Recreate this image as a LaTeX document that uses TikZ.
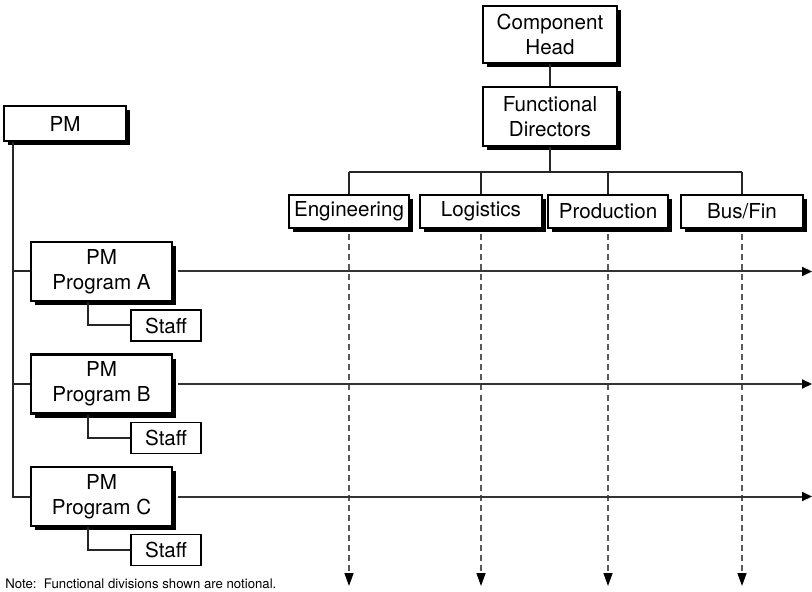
\documentclass[tikz,border=0pt]{standalone}
\usepackage{fontspec}
\setmainfont{TeX Gyre Heros}
\usetikzlibrary{shadows,arrows.meta}
\begin{document}
\begin{tikzpicture}[x=0.5pt,y=-0.5pt,
  orgbox/.style={draw=black, line width=1.1pt, fill=white, inner sep=0pt, align=center,
    font=\fontsize{10.3}{12.5}\selectfont,
    general shadow={fill=black, shadow xshift=2.2pt, shadow yshift=-2.2pt}},
  staffbox/.style={draw=black, line width=0.8pt, fill=white, inner sep=0pt,
    minimum width=35pt, minimum height=15.5pt, font=\fontsize{10.3}{12.5}\selectfont},
  conn/.style={line width=1pt, black!85},
  dasharr/.style={line width=0.7pt, black!65, dash pattern=on 3pt off 2pt,
    -{Triangle[width=4.5pt,length=6.5pt,color=black]}},
  harr/.style={line width=1pt, black!80, -{Triangle[width=4.5pt,length=5pt,color=black]}}]
\useasboundingbox (0,0) rectangle (812,592);

% right-hand hierarchy
\node[orgbox, minimum width=67pt, minimum height=28.5pt] (ch) at (550,34.5) {Component\\Head};
\node[orgbox, minimum width=67pt, minimum height=29.5pt] (fd) at (550,116.5) {Functional\\Directors};
\node[orgbox, minimum width=60pt, minimum height=16.5pt] (eng) at (349,211.5) {Engineering};
\node[orgbox, minimum width=61pt, minimum height=16.5pt] (log) at (481,211.5) {Logistics};
\node[orgbox, minimum width=60pt, minimum height=16.5pt] (prod) at (608,211.5) {Production};
\node[orgbox, minimum width=61pt, minimum height=16.5pt] (bus) at (742,211.5) {Bus/Fin};

% left-hand hierarchy
\node[orgbox, minimum width=61pt, minimum height=17.5pt] (pm) at (65,123.5) {PM};
\node[orgbox, minimum width=70.5pt, minimum height=29.5pt] (pa) at (101.5,271.5) {PM\\Program A};
\node[orgbox, minimum width=70.5pt, minimum height=29.5pt] (pb) at (101.5,384) {PM\\Program B};
\node[orgbox, minimum width=70.5pt, minimum height=29.5pt] (pc) at (101.5,496.5) {PM\\Program C};
\node[staffbox] (sa) at (166,325.5) {Staff};
\node[staffbox] (sb) at (166,438) {Staff};
\node[staffbox] (sc) at (166,550) {Staff};

\node[anchor=base west, inner sep=0pt, font=\fontsize{6.6}{8}\selectfont] (note) at (5,588)
  {Note:\ \ Functional divisions shown are notional.};

% connectors, right side
\coordinate (bar) at (550,172);
\draw[conn] (ch.south) -- (fd.north);
\draw[conn] (fd.south) -- (fd.south |- bar);
\draw[conn] (eng.north |- bar) -- (bus.north |- bar);
\foreach \n in {eng,log,prod,bus} \draw[conn] (\n.north) -- (\n.north |- bar);

% dashed functional arrows
\coordinate (dend) at (0,586);
\foreach \n in {eng,log,prod,bus} \draw[dasharr] ([yshift=-2.7pt]\n.south) -- (\n.south |- dend);

% connectors, left side
\coordinate (spine) at (13,0);
\draw[conn] (spine |- pm.south) -- (spine |- pc.west) -- (pc.west);
\draw[conn] (spine |- pa.west) -- (pa.west);
\draw[conn] (spine |- pb.west) -- (pb.west);

\coordinate (sx) at (88,0);
\draw[conn] (sx |- pa.south) -- (sx |- sa.west) -- (sa.west);
\draw[conn] (sx |- pb.south) -- (sx |- sb.west) -- (sb.west);
\draw[conn] (sx |- pc.south) -- (sx |- sc.west) -- (sc.west);

% program arrows
\coordinate (rend) at (812,0);
\draw[harr] ([xshift=2.2pt]pa.east) -- (pa.east -| rend);
\draw[harr] ([xshift=2.2pt]pb.east) -- (pb.east -| rend);
\draw[harr] ([xshift=2.2pt]pc.east) -- (pc.east -| rend);
\end{tikzpicture}
\end{document}
